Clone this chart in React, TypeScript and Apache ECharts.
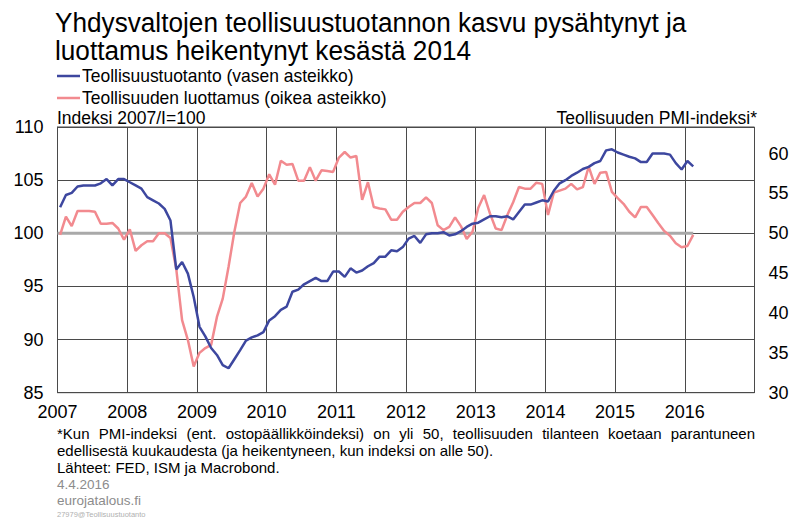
import React, { useEffect, useRef } from 'react';
import * as echarts from 'echarts';

const FONT = '"Liberation Sans", Arial, sans-serif';

const startYear = 2007;
const xYears = [2007, 2008, 2009, 2010, 2011, 2012, 2013, 2014, 2015, 2016];
const leftTicks = [85, 90, 95, 100, 105, 110];
const rightTicks = [30, 35, 40, 45, 50, 55, 60];

// Monthly values, Jan 2007 .. Feb 2016
const industrialProduction = [
  102.45, 103.6, 103.8, 104.4, 104.5, 104.5, 104.5, 104.7, 105.1, 104.5, 105.1, 105.1,
  104.8, 104.5, 104.2, 103.4, 103.1, 102.8, 102.3, 101.2, 96.6, 97.3, 96.2, 94.0,
  91.2, 90.3, 89.2, 88.55, 87.6, 87.3, 88.15, 89.0, 89.9, 90.2, 90.4, 90.7,
  91.8, 92.2, 92.8, 93.1, 94.5, 94.7, 95.2, 95.5, 95.8, 95.5, 95.5, 96.4,
  96.4, 95.9, 96.7, 96.3, 96.5, 96.9, 97.2, 97.8, 97.8, 98.4, 98.3, 98.7,
  99.5, 99.75, 99.1, 99.9, 100.0, 100.0, 100.1, 99.8, 99.9, 100.2, 100.6, 100.9,
  101.0, 101.3, 101.6, 101.6, 101.5, 101.6, 101.3, 102.0, 102.7, 102.7, 102.9, 103.1,
  103.0, 104.0, 104.7, 105.0, 105.4, 105.7, 106.05, 106.25, 106.6, 106.8, 107.8, 107.9,
  107.6, 107.4, 107.2, 107.05, 106.7, 106.7, 107.5, 107.5, 107.5, 107.4, 106.6, 106.0,
  106.8, 106.3,
];

const pmiIndex = [
  49.8, 52.1, 50.9, 52.8, 52.8, 52.8, 52.7, 51.2, 51.2, 51.3, 50.6, 49.2,
  50.5, 47.8, 48.5, 49.0, 49.0, 50.0, 50.0, 49.4, 45.5, 39.1, 36.6, 33.3,
  35.0, 35.6, 36.0, 39.5, 41.8, 45.8, 50.2, 53.8, 54.6, 56.3, 54.6, 55.6,
  57.4, 56.1, 59.1, 58.6, 58.7, 56.6, 56.6, 58.3, 56.6, 57.9, 57.8, 57.7,
  59.5, 60.2, 59.5, 59.7, 54.2, 56.4, 53.3, 53.1, 53.0, 51.7, 51.7, 52.7,
  53.3, 53.8, 53.8, 54.5, 53.8, 51.0, 50.4, 50.8, 52.0, 50.9, 49.3, 50.2,
  53.2, 54.8, 52.5, 50.6, 50.4, 52.3, 53.9, 55.8, 55.6, 55.6, 56.35, 56.2,
  52.3, 55.1, 55.35, 55.6, 56.2, 55.5, 55.8, 58.35, 56.2, 57.6, 57.7, 55.2,
  54.4, 53.7, 52.7, 52.0, 53.3, 53.3, 52.3, 51.25, 50.3, 49.7, 48.75, 48.25,
  48.4, 49.8,
];

const titleLines = [
  'Yhdysvaltojen teollisuustuotannon kasvu pysähtynyt ja',
  'luottamus heikentynyt kesästä 2014',
];
const legendNames = ['Teollisuustuotanto (vasen asteikko)', 'Teollisuuden luottamus (oikea asteikko)'];
const leftAxisName = 'Indeksi 2007/I=100';
const rightAxisName = 'Teollisuuden PMI-indeksi*';
const footLine1 = '*Kun PMI-indeksi (ent. ostopäällikköindeksi) on yli 50, teollisuuden tilanteen koetaan parantuneen';
const footLine2 = 'edellisestä kuukaudesta (ja heikentyneen, kun indeksi on alle 50).';
const footLine3 = 'Lähteet: FED, ISM ja Macrobond.';
const dateText = '4.4.2016';
const siteText = 'eurojatalous.fi';
const codeText = '27979@Teollisuustuotanto';

const BLUE = '#3d479f';
const PINK = '#f28a8f';
const GRID = '#4a4a4a';

const monthX = (i: number) => startYear + (i + 0.45) / 12;

function measure(text: string, size: number): number {
  const c = document.createElement('canvas').getContext('2d');
  if (!c) return text.length * size * 0.5;
  c.font = `${size}px "Liberation Sans", Arial, sans-serif`;
  return c.measureText(text).width;
}

function txt(text: string, x: number, y: number, size: number, opts: any = {}) {
  const align = opts.align || 'left';
  return {
    type: 'text',
    x,
    y,
    scaleX: opts.scaleX || 1,
    silent: true,
    style: {
      text,
      fontSize: size,
      fontFamily: FONT,
      fill: opts.fill || '#000',
      textAlign: align,
      align,
      textVerticalAlign: 'middle',
      verticalAlign: 'middle',
    },
  };
}

function justified(text: string, x: number, y: number, size: number, width: number) {
  const words = text.split(' ');
  const widths = words.map((w) => measure(w, size));
  const total = widths.reduce((a, b) => a + b, 0);
  const gap = (width - total) / (words.length - 1);
  const els: any[] = [];
  let cx = x;
  words.forEach((w, i) => {
    els.push(txt(w, cx, y, size));
    cx += widths[i] + gap;
  });
  return els;
}

export default function App() {
  const ref = useRef<HTMLDivElement>(null);

  useEffect(() => {
    if (!ref.current) return;
    const chart = echarts.init(ref.current, undefined, { renderer: 'svg' });

    const ipData = industrialProduction.map((v, i) => [monthX(i), v]);
    const pmiData = pmiIndex.map((v, i) => [monthX(i), v]);
    const lastX = monthX(industrialProduction.length - 1);

    const graphic: any[] = [
      txt(titleLines[0], 55, 22, 28, { scaleX: 0.935 }),
      txt(titleLines[1], 55, 50, 28, { scaleX: 0.935 }),
      { type: 'line', silent: true, shape: { x1: 57, y1: 76, x2: 80, y2: 76 }, style: { stroke: BLUE, lineWidth: 2.5 } },
      txt(legendNames[0], 82, 76, 18, { scaleX: 0.97 }),
      { type: 'line', silent: true, shape: { x1: 57, y1: 98, x2: 80, y2: 98 }, style: { stroke: PINK, lineWidth: 2.5 } },
      txt(legendNames[1], 82, 98, 18, { scaleX: 0.97 }),
      txt(leftAxisName, 57, 118, 17.5),
      txt(rightAxisName, 757, 118, 17.5, { align: 'right' }),
      ...justified(footLine1, 57, 433, 15, 698),
      txt(footLine2, 57, 450, 15),
      txt(footLine3, 57, 467, 15),
      txt(dateText, 57, 484, 13.5, { fill: '#8c8c8c' }),
      txt(siteText, 57, 500, 13.5, { fill: '#8c8c8c' }),
      txt(codeText, 57, 514, 7.5, { fill: '#b0b0b0' }),
    ];

    chart.setOption({
      animation: false,
      textStyle: { fontFamily: FONT },
      grid: {
        left: 57.5,
        right: 45.5,
        top: 127,
        bottom: 129.3,
        show: true,
        borderColor: GRID,
        borderWidth: 1,
        backgroundColor: 'transparent',
      },
      xAxis: {
        type: 'value',
        min: xYears[0],
        max: xYears[xYears.length - 1] + 1,
        interval: 1,
        axisLine: { show: true, lineStyle: { color: GRID } },
        axisTick: { show: false },
        axisLabel: {
          fontSize: 18,
          color: '#000',
          margin: 10,
          formatter: (v: number) => (xYears.includes(v) ? String(v) : ''),
        },
        splitLine: { show: true, lineStyle: { color: GRID, width: 1 } },
      },
      yAxis: [
        {
          type: 'value',
          position: 'left',
          min: leftTicks[0],
          max: leftTicks[leftTicks.length - 1],
          interval: 5,
          axisLine: { show: true, lineStyle: { color: GRID } },
          axisTick: { show: false },
          axisLabel: { fontSize: 18, color: '#000', margin: 14 },
          splitLine: { show: true, lineStyle: { color: GRID, width: 1 } },
        },
        {
          type: 'value',
          position: 'right',
          min: rightTicks[0],
          max: 30 + 100 / 3,
          interval: 5,
          axisLine: { show: false },
          axisTick: { show: false },
          axisLabel: {
            fontSize: 18,
            color: '#000',
            margin: 14,
            formatter: (v: number) => (rightTicks.includes(Math.round(v * 1000) / 1000) ? String(v) : ''),
          },
          splitLine: { show: false },
        },
      ],
      series: [
        {
          name: 'ref',
          type: 'line',
          yAxisIndex: 0,
          data: [[xYears[0], 100], [lastX, 100]],
          showSymbol: false,
          silent: true,
          lineStyle: { color: '#a9a9a9', width: 3 },
          z: 1,
        },
        {
          name: legendNames[1],
          type: 'line',
          yAxisIndex: 1,
          data: pmiData,
          showSymbol: false,
          lineStyle: { color: PINK, width: 2.5 },
          z: 2,
        },
        {
          name: legendNames[0],
          type: 'line',
          yAxisIndex: 0,
          data: ipData,
          showSymbol: false,
          lineStyle: { color: BLUE, width: 2.5 },
          z: 3,
        },
      ],
      graphic,
    });

    return () => chart.dispose();
  }, []);

  return (
    <div
      ref={ref}
      style={{ position: 'fixed', left: 0, top: 0, width: 800, height: 522, background: '#fff' }}
    />
  );
}
